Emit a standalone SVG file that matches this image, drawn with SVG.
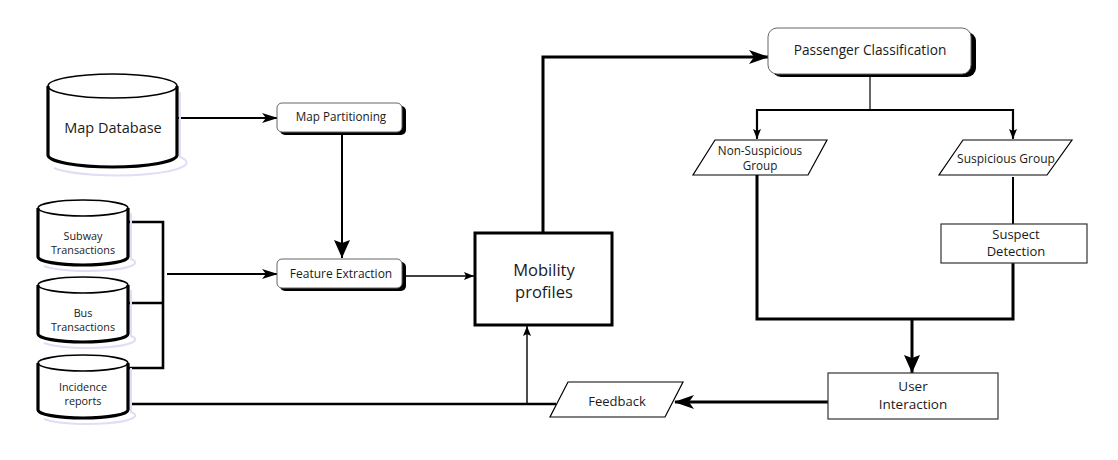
<svg xmlns="http://www.w3.org/2000/svg" width="1118" height="460" viewBox="0 0 1118 460">
<defs>
<style>
.t{font-family:"Open Sans","Noto Sans","Liberation Sans",sans-serif;fill:#1a1a1a;text-anchor:middle;dominant-baseline:central}
.cyl{fill:#fff;stroke:#000;stroke-width:1.6}
.cylside{fill:none;stroke:#000;stroke-width:3.2}
.cylsh{fill:none;stroke:#e2dcf5;stroke-width:2}
.rb{fill:#fff;stroke:#666;stroke-width:1}
.sh{fill:#000}
.box{fill:#fff;stroke:#333;stroke-width:1.2}
.c{fill:none;stroke:#000}
</style>
<marker id="aL" markerUnits="userSpaceOnUse" markerWidth="20" markerHeight="14" viewBox="0 0 20 14" refX="19" refY="7" orient="auto"><path d="M0,0 L20,7 L0,14 L5,7 z" fill="#000"/></marker>
<marker id="aM" markerUnits="userSpaceOnUse" markerWidth="16" markerHeight="10" viewBox="0 0 16 10" refX="15" refY="5" orient="auto"><path d="M0,0 L16,5 L0,10 L4,5 z" fill="#000"/></marker>
<marker id="aS" markerUnits="userSpaceOnUse" markerWidth="10" markerHeight="8" viewBox="0 0 10 8" refX="10" refY="4" orient="auto"><path d="M0,0 L10,4 L0,8 L2,4 z" fill="#000"/></marker>
<marker id="aD" markerUnits="userSpaceOnUse" markerWidth="18" markerHeight="16" viewBox="0 0 18 16" refX="18" refY="8" orient="auto"><path d="M0,0 L18,8 L0,16 L3,8 z" fill="#000"/></marker>
</defs>
<rect width="1118" height="460" fill="#fff"/>

<g id="connectors">
<path class="c" stroke-width="2" d="M177,118 H277" marker-end="url(#aM)"/>
<path class="c" stroke-width="2" d="M342,132 V258" marker-end="url(#aD)"/>
<path class="c" stroke-width="2.6" d="M128,222 H163 V368 H128 M128,303 H163"/>
<path class="c" stroke-width="2" d="M167,274 H277" marker-end="url(#aM)"/>
<path class="c" stroke-width="1.6" d="M403,276 H474" marker-end="url(#aS)"/>
<path class="c" stroke-width="3" d="M543,233 V57 H768" marker-end="url(#aL)"/>
<path class="c" stroke-width="1.2" d="M870,76 V110"/>
<path class="c" stroke-width="2.2" d="M757,138 V110 H1013 V138" />
<path class="c" stroke-width="1.8" d="M757,112 V139" marker-end="url(#aS)"/>
<path class="c" stroke-width="1.8" d="M1013,112 V139" marker-end="url(#aS)"/>
<path class="c" stroke-width="2" d="M1013,177 V224"/>
<path class="c" stroke-width="3" d="M757,175 V319 H1013 V263"/>
<path class="c" stroke-width="3" d="M912,319 V373" marker-end="url(#aD)"/>
<path class="c" stroke-width="3" d="M828,402 H675" marker-end="url(#aL)"/>
<path class="c" stroke-width="2.6" d="M131,404 H556"/>
<path class="c" stroke-width="1.4" d="M527,404 V326" marker-end="url(#aS)"/>
</g>

<g id="map-database">
<path class="cylsh" d="M180,92 V157 A64.5,12 0 0 1 54,168"/>
<path class="cyl" d="M48,86 V155 A64.5,12 0 0 0 177,155 V86 A64.5,12 0 0 0 48,86 Z"/>
<path class="cyl" d="M48,86 A64.5,12 0 0 0 177,86"/>
<path class="cylside" d="M48,86 V155 A64.5,12 0 0 0 177,155 V86"/>
<text class="t" x="113" y="127" font-size="14.5">Map Database</text>
</g>

<g id="map-partitioning">
<rect class="sh" x="280" y="106" width="126" height="29" rx="5"/>
<rect class="rb" x="277" y="103" width="125" height="29" rx="5"/>
<text class="t" x="341" y="116" font-size="11.7">Map Partitioning</text>
</g>

<g id="subway-transactions">
<path class="cylsh" d="M131,213 V259 A45,8 0 0 1 44,266"/>
<path class="cyl" d="M38,208 V257 A45,8 0 0 0 128,257 V208 A45,8 0 0 0 38,208 Z"/>
<path class="cyl" d="M38,208 A45,8 0 0 0 128,208"/>
<path class="cylside" d="M38,208 V257 A45,8 0 0 0 128,257 V208"/>
<text class="t" x="83" y="235" font-size="10.8">Subway</text>
<text class="t" x="83" y="249" font-size="10.8">Transactions</text>
</g>

<g id="bus-transactions">
<path class="cylsh" d="M131,290 V336 A45,8 0 0 1 44,343"/>
<path class="cyl" d="M38,285 V334 A45,8 0 0 0 128,334 V285 A45,8 0 0 0 38,285 Z"/>
<path class="cyl" d="M38,285 A45,8 0 0 0 128,285"/>
<path class="cylside" d="M38,285 V334 A45,8 0 0 0 128,334 V285"/>
<text class="t" x="83" y="312" font-size="10.8">Bus</text>
<text class="t" x="83" y="326" font-size="10.8">Transactions</text>
</g>

<g id="incidence-reports">
<path class="cylsh" d="M131,368 V412 A45,8 0 0 1 44,419"/>
<path class="cyl" d="M38,363 V410 A45,8 0 0 0 128,410 V363 A45,8 0 0 0 38,363 Z"/>
<path class="cyl" d="M38,363 A45,8 0 0 0 128,363"/>
<path class="cylside" d="M38,363 V410 A45,8 0 0 0 128,410 V363"/>
<text class="t" x="83" y="386" font-size="10.8">Incidence</text>
<text class="t" x="83" y="400" font-size="10.8">reports</text>
</g>

<g id="feature-extraction">
<rect class="sh" x="280" y="262" width="126" height="29" rx="5"/>
<rect class="rb" x="277" y="259" width="125" height="29" rx="5"/>
<text class="t" x="341" y="273" font-size="12">Feature Extraction</text>
</g>

<g id="mobility-profiles">
<rect x="475" y="233" width="137" height="92" fill="#fff" stroke="#000" stroke-width="3"/>
<text class="t" x="544" y="269" font-size="16.5">Mobility</text>
<text class="t" x="544" y="291" font-size="16.5">profiles</text>
</g>

<g id="passenger-classification">
<rect class="sh" x="772" y="32" width="204" height="45" rx="9"/>
<rect class="rb" x="768" y="28" width="203" height="46" rx="9"/>
<text class="t" x="870" y="49" font-size="13.7">Passenger Classification</text>
</g>

<g id="non-suspicious-group">
<polygon points="715,140 827,140 808,175 693,175" fill="#fff" stroke="#000" stroke-width="1.2"/>
<text class="t" x="760" y="150" font-size="11.7">Non-Suspicious</text>
<text class="t" x="760" y="165" font-size="11.7">Group</text>
</g>

<g id="suspicious-group">
<polygon points="963,140 1072,140 1047,175 939,175" fill="#fff" stroke="#000" stroke-width="1.2"/>
<text class="t" x="1006" y="158" font-size="12">Suspicious Group</text>
</g>

<g id="suspect-detection">
<rect class="box" x="941" y="224" width="146" height="39"/>
<text class="t" x="1016" y="234" font-size="13">Suspect</text>
<text class="t" x="1016" y="251" font-size="13">Detection</text>
</g>

<g id="user-interaction">
<rect class="box" x="828" y="373" width="170" height="46"/>
<text class="t" x="913" y="386" font-size="13.5">User</text>
<text class="t" x="913" y="404" font-size="13.5">Interaction</text>
</g>

<g id="feedback">
<polygon points="568,382 683,382 665,417 550,417" fill="#fff" stroke="#000" stroke-width="1.2"/>
<text class="t" x="617" y="401" font-size="13">Feedback</text>
</g>
</svg>
